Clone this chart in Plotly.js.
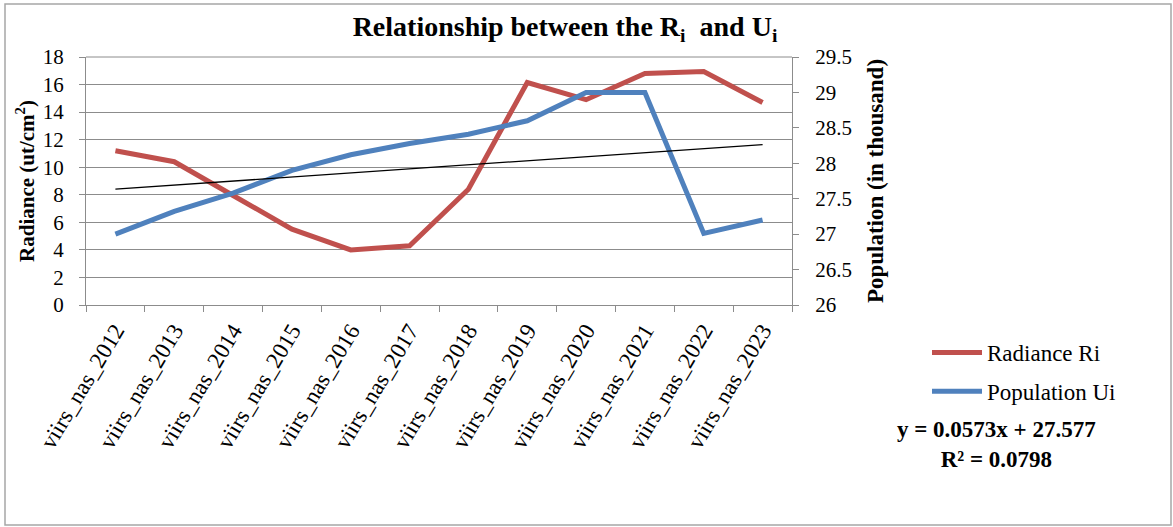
<!DOCTYPE html>
<html>
<head>
<meta charset="utf-8">
<script src="https://cdn.plot.ly/plotly-3.0.1.min.js"></script>
<style>
  html, body { margin: 0; padding: 0; background: #fff; }
  #chart { width: 1173px; height: 527px; }
</style>
</head>
<body>
<div id="chart"></div>
<script>
// ---- data ----
const categories = ["viirs_nas_2012","viirs_nas_2013","viirs_nas_2014","viirs_nas_2015","viirs_nas_2016","viirs_nas_2017","viirs_nas_2018","viirs_nas_2019","viirs_nas_2020","viirs_nas_2021","viirs_nas_2022","viirs_nas_2023"];
const radiance = [11.2, 10.4, 7.95, 5.5, 4.0, 4.3, 8.4, 16.15, 14.9, 16.8, 16.95, 14.7];
const population = [27.0, 27.32, 27.58, 27.9, 28.12, 28.28, 28.41, 28.6, 29.0, 29.0, 27.01, 27.2];
// Excel trendline shown on the chart: y = 0.0573x + 27.577 (x = 1..12)
const trendSlope = 0.0573;
const trendIntercept = 27.577;
const trendLabel = "y = 0.0573x + 27.577<br>R² = 0.0798";

const trendY = categories.map((c, i) => trendIntercept + trendSlope * (i + 1));

const FONT = "Liberation Serif, Times New Roman, serif";
const GRID = "#8c8c8c";

// plot-area pixel geometry
const L = 86, R = 792, T = 57, B = 305;
const W = R - L, H = B - T;
const px = x => (x - L) / W;
const py = y => (B - y) / H;

const traces = [
  { x: categories, y: radiance, name: "Radiance Ri", type: "scatter", mode: "lines",
    line: { color: "#C0504D", width: 5 }, yaxis: "y", legendgroup: "r" },
  { x: categories, y: population, name: "Population Ui", type: "scatter", mode: "lines",
    line: { color: "#4F81BD", width: 5 }, yaxis: "y2", legendgroup: "p" },
  { x: categories, y: trendY, name: "Linear (Population Ui)", type: "scatter", mode: "lines",
    line: { color: "#000000", width: 1.3 }, yaxis: "y2", showlegend: false, legendgroup: "t" }
];

const layout = {
  width: 1173, height: 527,
  margin: { l: L, r: 1173 - R, t: T, b: 527 - B, pad: 0 },
  paper_bgcolor: "#ffffff", plot_bgcolor: "#ffffff",
  font: { family: FONT, size: 21, color: "#000" },
  title: {
    text: "<b>Relationship between the R<sub>i</sub>&nbsp; and U<sub>i</sub></b>",
    font: { family: FONT, size: 28, color: "#000" },
    xref: "container", x: 565 / 1173, xanchor: "center",
    yref: "container", y: 1 - 26 / 527, yanchor: "middle"
  },
  xaxis: {
    type: "category", range: [-0.5, categories.length - 0.5],
    showgrid: false, showline: true, linecolor: GRID, linewidth: 1,
    ticks: "outside", tickson: "boundaries", ticklen: 6, tickcolor: GRID,
    tickangle: -59, ticklabelstandoff: 2,
    tickfont: { family: FONT, size: 23, color: "#000" },
    zeroline: false, fixedrange: true
  },
  yaxis: {
    range: [0, 18], dtick: 2, tick0: 0, showgrid: true, gridcolor: GRID, gridwidth: 1,
    showline: true, linecolor: GRID, ticks: "outside", ticklen: 6, tickcolor: GRID,
    ticklabelstandoff: 11,
    zeroline: false, tickfont: { family: FONT, size: 21, color: "#000" },
    title: { text: "<b>Radiance (ut/cm<sup>2</sup>)</b>", font: { family: FONT, size: 21, color: "#000" }, standoff: 2 }
  },
  yaxis2: {
    range: [26, 29.5], dtick: 0.5, tick0: 26, overlaying: "y", side: "right",
    showgrid: false, showline: true, linecolor: GRID, ticks: "outside", ticklen: 6, tickcolor: GRID,
    ticklabelstandoff: 12,
    zeroline: false, tickfont: { family: FONT, size: 21, color: "#000" },
    title: { text: "<b>Population (in thousand)</b>", font: { family: FONT, size: 23, color: "#000" }, standoff: 15 }
  },
  legend: {
    x: px(927), y: py(331), xanchor: "left", yanchor: "top",
    font: { family: FONT, size: 23, color: "#000" },
    bgcolor: "rgba(0,0,0,0)", traceorder: "grouped", tracegroupgap: 6, itemwidth: 50
  },
  annotations: [
    { text: "<b>" + trendLabel + "</b>", xref: "paper", yref: "paper",
      x: px(996), y: py(444), xanchor: "center", yanchor: "middle", showarrow: false,
      align: "center", font: { family: FONT, size: 23, color: "#000" } }
  ],
  shapes: [
    { type: "line", xref: "paper", yref: "paper", x0: 0, x1: 1, y0: 1, y1: 1,
      line: { color: GRID, width: 1 } },
    { type: "rect", xref: "paper", yref: "paper",
      x0: px(5), x1: px(1171), y0: py(525), y1: py(4),
      line: { color: "#a6a6a6", width: 1.5 }, fillcolor: "rgba(0,0,0,0)" }
  ],
  showlegend: true
};

Plotly.newPlot("chart", traces, layout, { staticPlot: true, displayModeBar: false });
</script>
</body>
</html>
